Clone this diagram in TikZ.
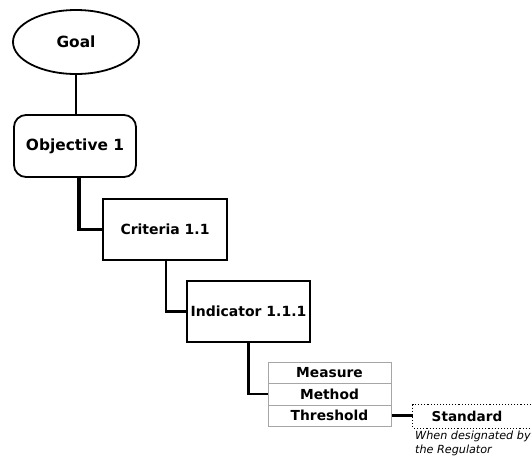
\documentclass[tikz,border=0pt]{standalone}
\usepackage{fontspec}
\setmainfont{DejaVu Sans}
\usetikzlibrary{shapes.geometric}
\begin{document}
\begin{tikzpicture}[x=1pt,y=1pt,
  box/.style={draw, line width=1.8pt, inner sep=0pt, font=\bfseries\fontsize{14}{16}\selectfont},
  bigbox/.style={box, font=\bfseries\fontsize{15.4}{17}\selectfont},
  cell/.style={draw=gray!70, line width=1pt, minimum width=123, minimum height=21.5, inner sep=0pt, font=\bfseries\fontsize{13.8}{15}\selectfont},
  conn/.style={line width=2.2pt},
  connthick/.style={line width=3.4pt}]
\useasboundingbox (0,0) rectangle (531,-456);
\node[bigbox, ellipse, minimum width=126, minimum height=64] (goal) at (76,-42) {Goal};
\node[bigbox, rounded corners=12pt, minimum width=122, minimum height=62] (obj) at (75,-146) {Objective 1};
\node[box, minimum width=124, minimum height=61] (crit) at (165,-229.5) {Criteria 1.1};
\node[box, minimum width=123, minimum height=61] (ind) at (248.5,-311.5) {Indicator 1.1.1};
\node[cell] (meas) at (329.5,-372.75) {Measure};
\node[cell] (meth) at (329.5,-394.25) {Method};
\node[cell] (thr) at (329.5,-415.75) {Threshold};
\node[inner sep=0pt, minimum width=108, minimum height=23, font=\bfseries\fontsize{13.6}{15}\selectfont] (std) at (467,-416.5) {Standard};
\draw[dotted, line width=1.1pt] (std.north west) ++(118,0) -- (std.north west) -- (std.south west) -- ++(118,0);
\node[anchor=north west, align=left, inner sep=0pt, font=\itshape\fontsize{11.2}{13.5}\selectfont] (note) at (415,-431) {When designated by\\the Regulator};
\draw[conn] (goal.south) -- (goal.south |- obj.north);
\draw[connthick] ([xshift=4pt]obj.south) |- (crit.west);
\draw[conn] ([xshift=1pt]crit.south) |- (ind.west);
\draw[conn] (ind.south) |- (meth.west);
\draw[connthick] (thr.east) -- (thr.east -| std.west);
\end{tikzpicture}
\end{document}
